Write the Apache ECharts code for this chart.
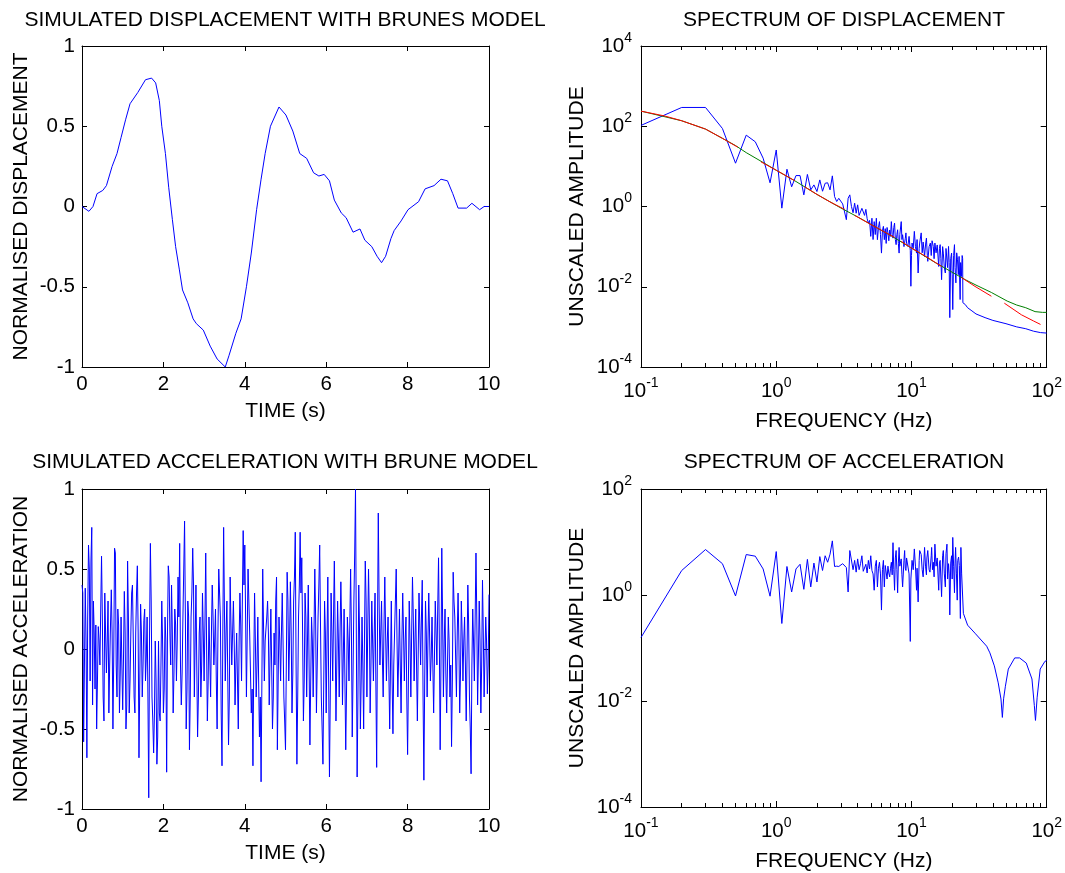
<!DOCTYPE html>
<html>
<head>
<meta charset="utf-8">
<title>Brune model simulation</title>
<script src="https://cdn.jsdelivr.net/npm/echarts@6/dist/echarts.min.js"></script>
<style>
  html, body { margin: 0; padding: 0; background: #fff; }
  #chart { width: 1065px; height: 873px; }
</style>
</head>
<body>
<div id="chart"></div>
<script>
// ---------------- data ----------------

// displacement trace: [time (s), normalised displacement]
const dispTrace = [
  [0, 0], [0.17, -0.03], [0.27, 0], [0.37, 0.08], [0.51, 0.1], [0.6, 0.13], [0.74, 0.25], [0.86, 0.33],
  [0.96, 0.43], [1.07, 0.54], [1.18, 0.64], [1.37, 0.71], [1.56, 0.79], [1.71, 0.8], [1.81, 0.77], [1.9, 0.66],
  [1.96, 0.5], [2.05, 0.33], [2.13, 0.12], [2.22, -0.08], [2.3, -0.25], [2.39, -0.39], [2.47, -0.52], [2.6, -0.6],
  [2.73, -0.7], [2.81, -0.73], [2.98, -0.77], [3.15, -0.87], [3.32, -0.95], [3.44, -0.98], [3.52, -1.0], [3.61, -0.93],
  [3.78, -0.79], [3.91, -0.7], [4.04, -0.5], [4.16, -0.29], [4.29, -0.02], [4.4, 0.17], [4.5, 0.33], [4.63, 0.5],
  [4.84, 0.62], [5.01, 0.57], [5.18, 0.47], [5.35, 0.33], [5.52, 0.3], [5.69, 0.21], [5.82, 0.19], [5.95, 0.2],
  [6.08, 0.16], [6.2, 0.04], [6.37, -0.04], [6.49, -0.07], [6.66, -0.16], [6.83, -0.14], [6.95, -0.21], [7.12, -0.25],
  [7.25, -0.31], [7.36, -0.35], [7.46, -0.31], [7.59, -0.2], [7.67, -0.15], [7.84, -0.09], [8.01, -0.02], [8.27, 0.03],
  [8.43, 0.11], [8.65, 0.13], [8.82, 0.17], [8.98, 0.16], [9.11, 0.08], [9.24, -0.01], [9.45, -0.01], [9.58, 0.02],
  [9.77, -0.02], [9.88, 0], [10, 0]
];

// acceleration trace, one value every accelStep seconds from t = 0 (one row per second)
const accelStep = 0.02;
const accelValues = [
  0.40, 0.35, -0.58, -0.10, 0.38, 0.05, -0.68, 0.20, 0.65, 0.50, -0.20, 0.55, 0.76, -0.35, 0.30, 0.10, -0.25, 0.15, -0.50, -0.20, 0.14, 0.05, -0.10, 0.25, 0.58, 0.20, -0.30, -0.45, 0.35, 0.10, -0.15, 0.05, 0.30, -0.40, -0.10, 0.15, 0.37, 0.10, -0.50, -0.05, 0.63, 0.60, -0.10, -0.30, 0.25, 0.15, -0.40, -0.15, 0.20, -0.10,
  -0.38, -0.05, 0.36, 0.10, -0.50, -0.35, 0.55, 0.20, -0.40, -0.20, 0.10, 0.35, 0.40, 0.05, -0.30, -0.40, 0.10, 0.35, 0.52, 0.10, -0.68, -0.20, 0.28, 0.10, -0.30, -0.10, 0.18, 0.25, -0.20, -0.05, 0.20, -0.30, -0.93, 0.10, 0.66, 0.30, -0.30, -0.45, -0.65, -0.40, 0.05, -0.20, -0.72, -0.55, 0.05, -0.40, -0.45, -0.10, 0.30, 0.05,
  -0.40, -0.25, 0.20, 0.05, -0.77, 0.10, 0.52, 0.45, 0.10, -0.10, 0.40, 0.10, -0.40, -0.15, 0.25, 0.15, -0.20, 0.05, 0.45, 0.20, 0.66, -0.10, -0.35, -0.15, 0.20, 0.50, 0.80, 0.20, -0.50, -0.25, 0.30, 0.20, -0.63, -0.30, 0.20, 0.35, 0.63, 0.40, -0.30, 0.05, 0.40, -0.10, -0.55, -0.30, 0.10, 0.20, -0.30, -0.10, 0.35, 0.10,
  -0.20, 0.15, 0.60, 0.05, -0.45, -0.20, 0.20, -0.05, -0.30, 0.10, 0.40, 0.20, -0.10, 0.05, 0.25, -0.20, -0.50, 0.10, 0.50, 0.35, 0.20, -0.40, -0.73, 0.10, 0.76, 0.25, -0.20, 0.10, 0.30, -0.15, -0.60, -0.30, 0.45, 0.15, -0.10, 0.10, 0.30, 0.05, -0.35, -0.10, 0.10, -0.20, -0.50, 0.05, 0.35, 0.15, -0.20, 0.30, 0.74, 0.40,
  0.65, 0.20, -0.30, 0.10, 0.50, 0.30, 0.10, -0.15, -0.40, -0.25, -0.73, -0.10, 0.35, 0.05, -0.30, -0.10, 0.20, -0.20, -0.55, -0.30, -0.83, -0.20, 0.50, 0.15, -0.20, 0.05, 0.05, 0.20, 0.30, 0.10, -0.35, -0.05, 0.25, -0.10, -0.50, -0.30, 0.10, -0.10, 0.30, 0.45, -0.63, -0.20, 0.20, 0.05, -0.20, 0.10, 0.35, 0.05, -0.30, -0.45,
  -0.63, -0.10, 0.48, 0.30, -0.20, 0.05, 0.42, 0.10, -0.40, -0.15, 0.30, 0.45, 0.73, -0.10, -0.72, -0.30, 0.20, 0.40, 0.73, 0.35, 0.57, 0.10, -0.45, -0.20, 0.35, 0.20, -0.30, 0.05, 0.40, -0.10, -0.60, -0.20, 0.20, 0.05, -0.30, 0.10, 0.50, 0.20, -0.40, -0.10, 0.20, 0.40, 0.65, 0.15, -0.30, -0.50, -0.72, -0.20, 0.30, 0.10,
  -0.40, 0.05, 0.45, -0.20, -0.80, -0.30, 0.35, 0.10, -0.20, 0.20, 0.55, 0.10, -0.45, -0.10, 0.30, 0.05, -0.30, 0.10, 0.42, 0.15, -0.35, -0.05, 0.25, -0.20, -0.63, -0.25, 0.20, 0.05, -0.20, 0.15, 0.50, 0.10, -0.55, -0.15, 0.30, 0.60, 1.00, 0.10, -0.80, -0.30, 0.40, 0.10, -0.50, -0.20, 0.20, -0.10, -0.50, 0.05, 0.55, 0.30,
  -0.30, 0.10, 0.50, 0.20, -0.40, -0.10, 0.30, 0.05, -0.20, 0.10, 0.35, -0.20, -0.74, 0.10, 0.85, 0.30, -0.10, 0.10, 0.30, -0.05, -0.30, 0.15, 0.45, 0.10, -0.20, 0.05, 0.20, -0.15, -0.50, -0.10, 0.30, -0.20, -0.53, -0.10, 0.10, 0.30, 0.50, 0.05, -0.30, -0.05, 0.25, -0.10, -0.40, 0.05, 0.35, 0.10, -0.20, 0.05, 0.20, -0.30,
  -0.66, -0.20, 0.30, 0.05, -0.30, 0.10, 0.45, 0.20, -0.20, 0.05, 0.25, -0.10, -0.45, -0.05, 0.35, 0.15, -0.10, 0.20, 0.43, -0.30, -0.82, -0.20, 0.30, 0.10, -0.30, 0.05, 0.35, 0.10, -0.20, -0.05, 0.20, -0.10, -0.40, -0.05, 0.30, 0.10, -0.10, 0.25, 0.57, 0.05, -0.63, -0.10, 0.63, 0.20, -0.30, 0.05, 0.25, -0.15, -0.40, -0.10,
  0.20, 0.05, -0.30, -0.10, -0.61, -0.20, 0.48, 0.30, 0.20, -0.05, -0.30, 0.10, 0.35, 0.05, -0.40, -0.15, 0.30, 0.10, -0.20, 0.05, 0.20, -0.10, -0.45, -0.05, 0.40, 0.15, -0.30, -0.50, -0.78, -0.10, 0.25, 0.05, -0.20, 0.20, 0.60, 0.20, -0.35, -0.05, 0.30, 0.05, -0.40, -0.10, 0.43, 0.10, -0.30, -0.05, 0.20, 0.05, -0.28, -0.10, 0.34
];

// displacement spectrum (blue): [frequency (Hz), amplitude]
const dispSpec = [
  [0.1, 105], [0.2, 294], [0.3, 294], [0.4, 88], [0.5, 12], [0.6, 60], [0.7, 41], [0.8, 16], [0.9, 3.9], [1.0, 25.6],
  [1.1, 0.91], [1.2, 8.5], [1.3, 3.1], [1.4, 5.9], [1.5, 5.9], [1.6, 1.95], [1.7, 6.3], [1.8, 2.6], [1.9, 3.45], [2.0, 2.36],
  [2.1, 4.6], [2.2, 2.4], [2.3, 3.8], [2.4, 3.9], [2.5, 2.6], [2.6, 5.8], [2.7, 1.77], [2.8, 1.33], [2.9, 1.6], [3.0, 1.47],
  [3.1, 1.16], [3.2, 1.2], [3.3, 0.47], [3.4, 1.6], [3.5, 1.95], [3.6, 1.0], [3.7, 0.7], [3.8, 1.21], [3.9, 0.68], [4.0, 1.1],
  [4.1, 0.6], [4.2, 0.56], [4.3, 0.9], [4.4, 0.83], [4.5, 0.6], [4.6, 0.85], [4.7, 0.5], [4.8, 0.385], [4.9, 0.45], [5.0, 0.18],
  [5.1, 0.51], [5.2, 0.15], [5.3, 0.42], [5.4, 0.2], [5.5, 0.51], [5.6, 0.149], [5.7, 0.3], [5.8, 0.42], [5.9, 0.2], [6.0, 0.069],
  [6.1, 0.25], [6.2, 0.32], [6.3, 0.149], [6.4, 0.28], [6.5, 0.12], [6.6, 0.3], [6.7, 0.22], [6.8, 0.14], [6.9, 0.26], [7.0, 0.18],
  [7.1, 0.42], [7.2, 0.2], [7.3, 0.163], [7.4, 0.3], [7.5, 0.385], [7.6, 0.15], [7.7, 0.112], [7.8, 0.2], [7.9, 0.263], [8.0, 0.12],
  [8.1, 0.069], [8.2, 0.2], [8.4, 0.42], [8.5, 0.15], [8.6, 0.198], [8.8, 0.1], [9.0, 0.16], [9.1, 0.22], [9.2, 0.12], [9.4, 0.101],
  [9.6, 0.18], [9.8, 0.08], [9.9, 0.0103], [10.0, 0.06], [10.1, 0.123], [10.3, 0.09], [10.5, 0.24], [10.7, 0.1], [10.9, 0.069], [11.0, 0.15],
  [11.2, 0.022], [11.4, 0.09], [11.5, 0.123], [11.8, 0.22], [12.0, 0.07], [12.2, 0.13], [12.5, 0.057], [12.7, 0.11], [12.9, 0.163], [13.1, 0.06],
  [13.2, 0.043], [13.5, 0.1], [13.8, 0.123], [14.0, 0.06], [14.2, 0.14], [14.5, 0.101], [14.7, 0.05], [14.9, 0.123], [15.2, 0.07], [15.5, 0.11],
  [15.9, 0.032], [16.1, 0.09], [16.3, 0.112], [16.5, 0.05], [16.7, 0.015], [17.0, 0.1], [17.2, 0.069], [17.5, 0.03], [17.8, 0.022], [18.0, 0.09],
  [18.3, 0.084], [18.5, 0.03], [18.8, 0.101], [19.0, 0.04], [19.2, 0.0017], [19.5, 0.05], [19.8, 0.069], [20.0, 0.02], [20.2, 0.0027], [20.5, 0.06],
  [20.8, 0.112], [21.0, 0.03], [21.3, 0.0125], [21.6, 0.07], [21.9, 0.047], [22.2, 0.02], [22.5, 0.057], [22.9, 0.0048], [23.1, 0.04], [23.4, 0.018],
  [23.7, 0.06], [23.9, 0.05], [24.0, 0.004], [25, 0.0036], [26, 0.003], [28, 0.0025], [30, 0.0021], [35, 0.0017], [40, 0.00145], [50, 0.0012],
  [60, 0.001], [70, 0.0009], [80, 0.00078], [90, 0.00072], [100, 0.0007]
];

// smooth model curves (green underneath, red on top with gaps)
const modelGreen = [
  [0.1, 238], [0.2, 137], [0.3, 85], [0.4, 50], [0.5, 33], [0.6, 22], [0.8, 12.5], [1.0, 8], [1.4, 4.2], [2.0, 2.0],
  [3.0, 0.92], [4.0, 0.55], [5.0, 0.36], [7.0, 0.19], [10, 0.092], [15, 0.04], [20, 0.023], [25, 0.015], [30, 0.011], [39, 0.0072],
  [51, 0.0044], [60, 0.0035], [70, 0.003], [82, 0.0024], [93, 0.0023], [100, 0.0023]
];
const modelRed = [
  [0.1, 238], [0.15, 180], [0.2, 137], [0.3, 85], [0.4, 50], [0.52, 30], [0.6, null],
  [0.77, 13], [1.0, 8], [1.37, 4.4], [1.5, null],
  [1.62, 3.1], [2.0, 2.0], [2.5, 1.3], [3.2, 0.85], [3.5, null],
  [3.8, 0.6], [5.3, 0.32], [7.5, 0.17], [8.0, null],
  [8.4, 0.135], [10, 0.092], [13, 0.055], [16.7, 0.032], [20, null],
  [23.4, 0.017], [29.5, 0.0102], [39, 0.0058], [44, null],
  [48.6, 0.0039], [65, 0.002], [80, 0.0014], [90, 0.00115]
];

// acceleration spectrum (blue): [frequency (Hz), amplitude]
const accelSpec = [
  [0.1, 0.158], [0.2, 2.9], [0.3, 7.2], [0.4, 3.9], [0.5, 0.96], [0.6, 5.8], [0.7, 5.4], [0.8, 3.1], [0.9, 0.95], [1.0, 6.6],
  [1.1, 0.29], [1.2, 3.45], [1.3, 1.14], [1.4, 3.1], [1.5, 3.8], [1.6, 1.28], [1.7, 4.7], [1.8, 1.42], [1.9, 4.0], [2.0, 1.76],
  [2.1, 5.3], [2.2, 2.9], [2.3, 5.5], [2.4, 4.15], [2.5, 5.9], [2.6, 10.5], [2.7, 3.45], [2.8, 3.5], [2.9, 3.45], [3.0, 3.3],
  [3.1, 3.9], [3.2, 4.0], [3.3, 3.3], [3.4, 1.14], [3.5, 6.9], [3.6, 7.1], [3.7, 3.0], [3.8, 4.5], [3.9, 2.7], [4.0, 4.8],
  [4.1, 3.0], [4.2, 3.9], [4.3, 5.5], [4.4, 2.8], [4.5, 3.0], [4.6, 3.8], [4.7, 2.6], [4.8, 4.5], [4.9, 3.1], [5.0, 5.5],
  [5.1, 2.9], [5.2, 2.5], [5.3, 1.23], [5.4, 3.5], [5.5, 4.5], [5.6, 1.42], [5.7, 3.2], [5.8, 4.15], [5.9, 2.5], [6.0, 0.52],
  [6.1, 3.0], [6.2, 4.5], [6.3, 1.42], [6.4, 3.6], [6.5, 3.9], [6.6, 2.0], [6.7, 3.5], [6.8, 2.6], [6.9, 2.2], [7.0, 3.2],
  [7.1, 4.15], [7.2, 2.4], [7.3, 9.7], [7.4, 3.0], [7.5, 1.23], [7.6, 5.0], [7.7, 6.9], [7.8, 3.0], [7.9, 1.1], [8.0, 4.0],
  [8.1, 7.9], [8.2, 3.5], [8.4, 4.8], [8.5, 2.4], [8.6, 1.42], [8.8, 4.5], [8.9, 6.9], [9.0, 3.2], [9.1, 2.9], [9.2, 5.0],
  [9.4, 5.2], [9.6, 2.5], [9.8, 0.133], [9.9, 2.0], [10.1, 4.5], [10.3, 3.0], [10.5, 7.4], [10.7, 3.5], [10.9, 1.23], [11.0, 3.2],
  [11.2, 0.74], [11.4, 4.5], [11.5, 6.9], [11.8, 5.8], [12.0, 3.0], [12.2, 2.2], [12.5, 7.9], [12.7, 3.5], [12.9, 2.4], [13.0, 5.0],
  [13.2, 6.9], [13.5, 3.0], [13.7, 2.7], [14.0, 5.5], [14.1, 7.9], [14.3, 3.0], [14.5, 4.15], [14.7, 2.2], [14.9, 9.1], [15.2, 3.5],
  [15.5, 5.0], [15.9, 1.23], [16.1, 4.0], [16.3, 4.5], [16.5, 2.0], [16.7, 0.93], [17.0, 5.5], [17.2, 6.9], [17.5, 2.5], [17.8, 1.42],
  [18.0, 6.0], [18.3, 9.1], [18.5, 2.0], [18.8, 3.9], [19.0, 2.5], [19.2, 0.42], [19.5, 4.0], [19.8, 5.5], [20.0, 2.0], [20.2, 12.2],
  [20.5, 3.5], [20.8, 1.1], [21.0, 4.0], [21.2, 7.9], [21.5, 2.5], [21.8, 0.8], [22.0, 4.5], [22.3, 5.2], [22.6, 3.6], [23.0, 0.36],
  [23.2, 7.9], [23.5, 2.5], [23.8, 2.7], [24.2, 0.45], [26, 0.27], [29.5, 0.19], [36, 0.108], [38, 0.081], [41, 0.046], [43.8, 0.022],
  [45.9, 0.0109], [47, 0.0049], [48, 0.011], [49.5, 0.019], [52, 0.04], [58, 0.065], [63, 0.065], [70.6, 0.052], [77.8, 0.026], [81, 0.0082],
  [82.6, 0.0043], [85, 0.0118], [89.5, 0.04], [97, 0.056], [100, 0.058]
];

// tick values
const timeTicks = { min: 0, max: 10, step: 2 };
const normTicks = { min: -1, max: 1, step: 0.5 };
const freqDecades = [0.1, 1, 10, 100];
const freqMinor = [0.2, 0.3, 0.4, 0.5, 0.6, 0.7, 0.8, 0.9, 2, 3, 4, 5, 6, 7, 8, 9, 20, 30, 40, 50, 60, 70, 80, 90];
const dispSpecDecades = [1e-4, 1e-2, 1, 1e2, 1e4];
const accelSpecDecades = [1e-4, 1e-2, 1, 1e2];

// ---------------- chart ----------------
const FONT = '"Liberation Sans", Arial, Helvetica, sans-serif';
const BLACK = '#000';
const BLUE = '#0000ff';

const grids = [
  { left: 82, top: 46, width: 407, height: 321 },   // displacement
  { left: 641, top: 46, width: 406, height: 321 },  // spectrum of displacement
  { left: 82, top: 489, width: 407, height: 320 },  // acceleration
  { left: 641, top: 489, width: 406, height: 320 }  // spectrum of acceleration
];

const nameStyle = { color: BLACK, fontSize: 21, fontFamily: FONT };

// 10 with a raised exponent
const powRich = {
  b: { color: BLACK, fontSize: 20.5, fontFamily: FONT, verticalAlign: 'middle' },
  e: { color: BLACK, fontSize: 14, fontFamily: FONT, verticalAlign: 'middle', padding: [0, 0, 16, 0] }
};
function powLabel(v) {
  return '{b|10}{e|' + Math.round(Math.log10(v)) + '}';
}

function axis(grid, type, pos, extra) {
  return Object.assign({
    gridIndex: grid,
    type: type,
    position: pos,
    axisLine: { show: true, onZero: false, lineStyle: { color: BLACK, width: 1 } },
    axisTick: { show: true, inside: true, length: 5, lineStyle: { color: BLACK, width: 1 } },
    axisLabel: { show: false },
    splitLine: { show: false },
    axisPointer: { show: false }
  }, extra);
}

const xAxes = [];
const yAxes = [];

// linear time plot: box with ticks on all four sides
function linearAxes(grid, yName) {
  const xi = xAxes.length;
  const xr = { min: timeTicks.min, max: timeTicks.max, interval: timeTicks.step };
  const yr = { min: normTicks.min, max: normTicks.max, interval: normTicks.step };
  xAxes.push(axis(grid, 'value', 'bottom', Object.assign({
    axisLabel: { color: BLACK, fontSize: 20.5, fontFamily: FONT, margin: 7 },
    name: 'TIME (s)', nameLocation: 'middle', nameGap: 34, nameTextStyle: nameStyle
  }, xr)));
  xAxes.push(axis(grid, 'value', 'top', Object.assign({}, xr)));
  const yi = yAxes.length;
  yAxes.push(axis(grid, 'value', 'left', Object.assign({
    axisLabel: { color: BLACK, fontSize: 20.5, fontFamily: FONT, margin: 7 },
    name: yName, nameLocation: 'middle', nameGap: 50, nameRotate: 90, nameTextStyle: nameStyle
  }, yr)));
  yAxes.push(axis(grid, 'value', 'right', Object.assign({}, yr)));
  return [xi, yi];
}

// log-log spectrum plot
function logAxes(grid, yDecades) {
  const xr = { min: 0.1, max: 100, logBase: 10 };
  const yr = { min: yDecades[0], max: yDecades[yDecades.length - 1], logBase: 10 };
  const majorX = { show: true, inside: true, length: 6, customValues: freqDecades, lineStyle: { color: BLACK } };
  const minorX = { show: true, inside: true, length: 4, customValues: freqMinor, lineStyle: { color: BLACK } };
  const majorY = { show: true, inside: true, length: 6, customValues: yDecades, lineStyle: { color: BLACK } };
  const xi = xAxes.length;
  xAxes.push(axis(grid, 'log', 'bottom', Object.assign({
    axisTick: majorX,
    axisLabel: { customValues: freqDecades, formatter: powLabel, rich: powRich, margin: 9 },
    name: 'FREQUENCY (Hz)', nameLocation: 'middle', nameGap: 44, nameTextStyle: nameStyle
  }, xr)));
  xAxes.push(axis(grid, 'log', 'bottom', Object.assign({ axisLine: { show: false }, axisTick: minorX }, xr)));
  xAxes.push(axis(grid, 'log', 'top', Object.assign({ axisTick: majorX }, xr)));
  xAxes.push(axis(grid, 'log', 'top', Object.assign({ axisLine: { show: false }, axisTick: minorX }, xr)));
  const yi = yAxes.length;
  yAxes.push(axis(grid, 'log', 'left', Object.assign({
    axisTick: majorY,
    axisLabel: { customValues: yDecades, formatter: powLabel, rich: powRich, margin: 9 },
    name: 'UNSCALED AMPLITUDE', nameLocation: 'middle', nameGap: 53, nameRotate: 90, nameTextStyle: nameStyle
  }, yr)));
  yAxes.push(axis(grid, 'log', 'right', Object.assign({ axisTick: majorY }, yr)));
  return [xi, yi];
}

const dispAx = linearAxes(0, 'NORMALISED DISPLACEMENT');
const dispSpecAx = logAxes(1, dispSpecDecades);
const accelAx = linearAxes(2, 'NORMALISED ACCELERATION');
const accelSpecAx = logAxes(3, accelSpecDecades);

function line(ax, data, color) {
  return {
    type: 'line',
    xAxisIndex: ax[0],
    yAxisIndex: ax[1],
    data: data,
    showSymbol: false,
    symbol: 'none',
    connectNulls: false,
    clip: true,
    lineStyle: { color: color, width: 1 },
    itemStyle: { color: color },
    emphasis: { disabled: true }
  };
}

const accelTrace = accelValues.map((v, i) => [+(i * accelStep).toFixed(2), v]);

function titleAt(text, x, y) {
  return { text: text, left: x, top: y, textAlign: 'center', padding: 0,
    textStyle: { color: BLACK, fontSize: 21, fontWeight: 'normal', fontFamily: FONT } };
}

const chart = echarts.init(document.getElementById('chart'), null, { renderer: 'canvas' });
chart.setOption({
  animation: false,
  backgroundColor: '#fff',
  title: [
    titleAt('SIMULATED DISPLACEMENT WITH BRUNES MODEL', 285, 10),
    titleAt('SPECTRUM OF DISPLACEMENT', 844, 10),
    titleAt('SIMULATED ACCELERATION WITH BRUNE MODEL', 285, 452),
    titleAt('SPECTRUM OF ACCELERATION', 844, 452)
  ],
  grid: grids,
  xAxis: xAxes,
  yAxis: yAxes,
  series: [
    line(dispAx, dispTrace, BLUE),
    line(dispSpecAx, dispSpec, BLUE),
    line(dispSpecAx, modelGreen, '#008000'),
    line(dispSpecAx, modelRed, '#ff0000'),
    line(accelAx, accelTrace, BLUE),
    line(accelSpecAx, accelSpec, BLUE)
  ]
});
</script>
</body>
</html>
